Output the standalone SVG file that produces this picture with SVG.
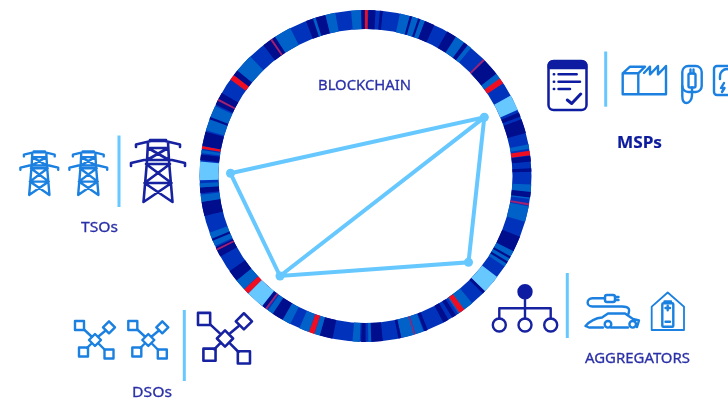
<svg xmlns="http://www.w3.org/2000/svg" width="728" height="401" viewBox="0 0 728 401">
<style>
text{font-family:"Noto Sans","Open Sans","Liberation Sans",sans-serif;}
.lbl{fill:#2a30a8;stroke:#2a30a8;stroke-width:.3px;font-size:15px;}
.bold{fill:#0a1a9c;stroke:#0a1a9c;stroke-width:.2px;font-size:16px;font-weight:700;}
.ring{fill:none;stroke-width:19;}
.n{stroke:#000a8c}.m{stroke:#0062c8}.l{stroke:#66c8ff}.r{stroke:#f01020}.t{stroke:#a02070}
.sep{stroke:#66c8ff;stroke-width:3;fill:none;}
.edge{stroke:#66c8ff;stroke-width:4;fill:none;stroke-linecap:round;}
.dot{fill:#66c8ff;}
.ic{fill:none;stroke-linecap:round;stroke-linejoin:round;}
.lt{stroke:#1a80e0;stroke-width:2.400;}
.dk{stroke:#1520a0;stroke-width:2.400;}
</style>
<defs>
<filter id="soft" x="-5%" y="-5%" width="110%" height="110%"><feGaussianBlur stdDeviation="0.5"/></filter>
<circle id="s" class="ring" cx="365.5" cy="176" r="156.5" pathLength="360"/>
<g id="tower">
<path d="M-8,0H8M-22,7V4.5L-7,1H7L22,4.5V7M-27,26V23L-14,20H14L27,23V26M-10,2L-11,21L-14.5,62M10,2L11,21L14.5,62M-10,8H10M-10,8L11,20M10,8L-11,20M-12,24H12M-12,24L13.500,43M12,24L-13.500,43M-13.500,43H13.500M-13.500,43L14.500,62M13.500,43L-14.500,62"/>
</g>
<g id="net">
<path d="M0,-6L6,0L0,6L-6,0ZM-11,-10.500L-4,-4M10,-9L4,-4M-8,8L-4,4M10,10L4,4"/>
<rect x="-20" y="-19" width="9" height="9"/>
<path d="M14,-18.700L20,-12.700L14,-6.700L8,-12.700Z"/>
<rect x="-16" y="7.500" width="9" height="9"/>
<rect x="9.500" y="9.500" width="9" height="9"/>
</g>
</defs>

<g filter="url(#soft)">
<g id="blockchain-ring">
<circle class="ring" cx="365.500" cy="176" r="156.500" stroke="#0033bb"/>
<g>
<use href="#s" class="m" stroke-dasharray="5 360" stroke-dashoffset="-3"/>
<use href="#s" class="n" stroke-dasharray="2 360" stroke-dashoffset="-5.500"/>
<use href="#s" class="t" stroke-dasharray="0.700 360" stroke-dashoffset="-9.500"/>
<use href="#s" class="m" stroke-dasharray="5.500 360" stroke-dashoffset="-10.500"/>
<use href="#s" class="n" stroke-dasharray="5.500 360" stroke-dashoffset="-21.500"/>
<use href="#s" class="m" stroke-dasharray="6 360" stroke-dashoffset="-27"/>
<use href="#s" class="n" stroke-dasharray="0.800 360" stroke-dashoffset="-29"/>
<use href="#s" class="n" stroke-dasharray="0.800 360" stroke-dashoffset="-31"/>
<use href="#s" class="l" stroke-dasharray="6.500 360" stroke-dashoffset="-37.500"/>
<use href="#s" class="n" stroke-dasharray="1 360" stroke-dashoffset="-44"/>
<use href="#s" class="m" stroke-dasharray="6 360" stroke-dashoffset="-50"/>
<use href="#s" class="r" stroke-dasharray="2 360" stroke-dashoffset="-53.500"/>
<use href="#s" class="n" stroke-dasharray="1.500 360" stroke-dashoffset="-57"/>
<use href="#s" class="n" stroke-dasharray="2 360" stroke-dashoffset="-60"/>
<use href="#s" class="n" stroke-dasharray="1.200 360" stroke-dashoffset="-68"/>
<use href="#s" class="m" stroke-dasharray="3 360" stroke-dashoffset="-69.500"/>
<use href="#s" class="t" stroke-dasharray="0.700 360" stroke-dashoffset="-72.500"/>
<use href="#s" class="m" stroke-dasharray="4.500 360" stroke-dashoffset="-73"/>
<use href="#s" class="n" stroke-dasharray="1 360" stroke-dashoffset="-77.500"/>
<use href="#s" class="n" stroke-dasharray="4 360" stroke-dashoffset="-84"/>
<use href="#s" class="m" stroke-dasharray="1 360" stroke-dashoffset="-88"/>
<use href="#s" class="n" stroke-dasharray="1.500 360" stroke-dashoffset="-90"/>
<use href="#s" class="m" stroke-dasharray="2.500 360" stroke-dashoffset="-92"/>
<use href="#s" class="n" stroke-dasharray="4.500 360" stroke-dashoffset="-101.500"/>
<use href="#s" class="m" stroke-dasharray="2 360" stroke-dashoffset="-106"/>
<use href="#s" class="r" stroke-dasharray="2 360" stroke-dashoffset="-108"/>
<use href="#s" class="m" stroke-dasharray="3.500 360" stroke-dashoffset="-110"/>
<use href="#s" class="m" stroke-dasharray="3 360" stroke-dashoffset="-117"/>
<use href="#s" class="n" stroke-dasharray="4 360" stroke-dashoffset="-120"/>
<use href="#s" class="m" stroke-dasharray="2 360" stroke-dashoffset="-124"/>
<use href="#s" class="t" stroke-dasharray="0.700 360" stroke-dashoffset="-126.500"/>
<use href="#s" class="n" stroke-dasharray="1.200 360" stroke-dashoffset="-127.200"/>
<use href="#s" class="l" stroke-dasharray="6.500 360" stroke-dashoffset="-128.500"/>
<use href="#s" class="r" stroke-dasharray="2 360" stroke-dashoffset="-135"/>
<use href="#s" class="m" stroke-dasharray="4 360" stroke-dashoffset="-137"/>
<use href="#s" class="n" stroke-dasharray="4 360" stroke-dashoffset="-141"/>
<use href="#s" class="n" stroke-dasharray="3.500 360" stroke-dashoffset="-151"/>
<use href="#s" class="t" stroke-dasharray="0.700 360" stroke-dashoffset="-153.300"/>
<use href="#s" class="m" stroke-dasharray="5 360" stroke-dashoffset="-155"/>
<use href="#s" class="n" stroke-dasharray="0.800 360" stroke-dashoffset="-157"/>
<use href="#s" class="n" stroke-dasharray="5 360" stroke-dashoffset="-166"/>
<use href="#s" class="m" stroke-dasharray="2.500 360" stroke-dashoffset="-171"/>
<use href="#s" class="n" stroke-dasharray="2 360" stroke-dashoffset="-174"/>
<use href="#s" class="m" stroke-dasharray="1.500 360" stroke-dashoffset="-176"/>
<use href="#s" class="l" stroke-dasharray="6.500 360" stroke-dashoffset="-178.500"/>
<use href="#s" class="n" stroke-dasharray="2 360" stroke-dashoffset="-185.500"/>
<use href="#s" class="m" stroke-dasharray="1 360" stroke-dashoffset="-188"/>
<use href="#s" class="r" stroke-dasharray="0.900 360" stroke-dashoffset="-189.500"/>
<use href="#s" class="n" stroke-dasharray="5 360" stroke-dashoffset="-190.500"/>
<use href="#s" class="m" stroke-dasharray="9 360" stroke-dashoffset="-196"/>
<use href="#s" class="n" stroke-dasharray="0.800 360" stroke-dashoffset="-200"/>
<use href="#s" class="n" stroke-dasharray="4.500 360" stroke-dashoffset="-205.500"/>
<use href="#s" class="t" stroke-dasharray="0.700 360" stroke-dashoffset="-207"/>
<use href="#s" class="r" stroke-dasharray="2 360" stroke-dashoffset="-215.500"/>
<use href="#s" class="n" stroke-dasharray="2 360" stroke-dashoffset="-217.500"/>
<use href="#s" class="m" stroke-dasharray="6.500 360" stroke-dashoffset="-219.500"/>
<use href="#s" class="n" stroke-dasharray="5 360" stroke-dashoffset="-232"/>
<use href="#s" class="t" stroke-dasharray="0.700 360" stroke-dashoffset="-235"/>
<use href="#s" class="m" stroke-dasharray="6 360" stroke-dashoffset="-237"/>
<use href="#s" class="n" stroke-dasharray="7 360" stroke-dashoffset="-249"/>
<use href="#s" class="m" stroke-dasharray="1 360" stroke-dashoffset="-251.500"/>
<use href="#s" class="m" stroke-dasharray="3.500 360" stroke-dashoffset="-256"/>
<use href="#s" class="m" stroke-dasharray="3.500 360" stroke-dashoffset="-265"/>
<use href="#s" class="n" stroke-dasharray="1.500 360" stroke-dashoffset="-268.500"/>
<use href="#s" class="r" stroke-dasharray="1 360" stroke-dashoffset="-269.800"/>
<use href="#s" class="n" stroke-dasharray="2.500 360" stroke-dashoffset="-271"/>
<use href="#s" class="n" stroke-dasharray="1 360" stroke-dashoffset="-275"/>
<use href="#s" class="m" stroke-dasharray="9 360" stroke-dashoffset="-282"/>
<use href="#s" class="n" stroke-dasharray="0.800 360" stroke-dashoffset="-285.500"/>
<use href="#s" class="n" stroke-dasharray="0.800 360" stroke-dashoffset="-288.500"/>
<use href="#s" class="n" stroke-dasharray="3.500 360" stroke-dashoffset="-291"/>
<use href="#s" class="n" stroke-dasharray="3.500 360" stroke-dashoffset="-299.500"/>
<use href="#s" class="m" stroke-dasharray="3.500 360" stroke-dashoffset="-303"/>
<use href="#s" class="n" stroke-dasharray="1.500 360" stroke-dashoffset="-306.500"/>
<use href="#s" class="m" stroke-dasharray="1.500 360" stroke-dashoffset="-308"/>
<use href="#s" class="t" stroke-dasharray="0.700 360" stroke-dashoffset="-315.200"/>
<use href="#s" class="n" stroke-dasharray="6 360" stroke-dashoffset="-316"/>
<use href="#s" class="m" stroke-dasharray="2.500 360" stroke-dashoffset="-322"/>
<use href="#s" class="r" stroke-dasharray="2 360" stroke-dashoffset="-324"/>
<use href="#s" class="l" stroke-dasharray="5.500 360" stroke-dashoffset="-331"/>
<use href="#s" class="n" stroke-dasharray="1.500 360" stroke-dashoffset="-337.500"/>
<use href="#s" class="n" stroke-dasharray="5 360" stroke-dashoffset="-340"/>
<use href="#s" class="m" stroke-dasharray="1.500 360" stroke-dashoffset="-349"/>
<use href="#s" class="r" stroke-dasharray="1.600 360" stroke-dashoffset="-351.200"/>
<use href="#s" class="n" stroke-dasharray="2 360" stroke-dashoffset="-353"/>
<use href="#s" class="n" stroke-dasharray="1.200 360" stroke-dashoffset="-357.300"/>
</g>
</g>

<g id="connectors">
<path class="edge" d="M230.500,173.300L484.300,117.300L468.500,262.300L280,276L230.500,173.300M280,276L484.300,117.300"/>
<circle class="dot" cx="230.500" cy="173.300" r="4.500"/>
<circle class="dot" cx="484.300" cy="117.300" r="4.500"/>
<circle class="dot" cx="468.500" cy="262.300" r="4.500"/>
<circle class="dot" cx="280" cy="276" r="4.500"/>
</g>

<g id="blockchain-label"><text class="lbl" x="318" y="90" textLength="93" lengthAdjust="spacingAndGlyphs">BLOCKCHAIN</text></g>

<g id="tsos">
<g class="ic lt"><use href="#tower" transform="translate(39.300,151.500) scale(.7)" style="stroke-width:3.400px"/><use href="#tower" transform="translate(88.300,151.500) scale(.7)" style="stroke-width:3.400px"/></g>
<path class="sep" d="M119,135.500V207"/>
<g class="ic dk"><use href="#tower" transform="translate(158,140)" style="stroke-width:2.600px"/></g>
<text class="lbl" x="81" y="232" textLength="37" lengthAdjust="spacingAndGlyphs">TSOs</text>
</g>

<g id="dsos">
<g class="ic lt"><use href="#net" x="95" y="340"/><use href="#net" x="148.300" y="340"/></g>
<path class="sep" d="M184.300,310V381"/>
<g class="ic dk"><use href="#net" transform="translate(225,338.500) scale(1.350)" style="stroke-width:1.900px"/></g>
<text class="lbl" x="132" y="397" textLength="40" lengthAdjust="spacingAndGlyphs">DSOs</text>
</g>

<g id="msps">
<g class="ic" stroke="#101ca0" stroke-width="2.500">
<rect x="548.500" y="61" width="38" height="49" rx="5"/>
<path d="M549,68V65A4,4 0 0 1 553,61.500H582A4,4 0 0 1 586,65V68Z" fill="#101ca0"/>
<path d="M558.500,74.300H576.700M558.500,81.700H580M558.500,89H570M553.800,74.300h.4M553.800,81.700h.4M553.800,89h.4"/>
<path d="M567.300,100L571.700,103.500L580.700,94" stroke-width="3"/>
</g>
<path class="sep" d="M605.700,51.500V106.700"/>
<g class="ic lt">
<path d="M622.700,73.300H638.300V94.300H622.700ZM622.700,73.300L630,66.700H645L638.300,73.300M638.300,94.300H666V66L658,74.500V66L650,74.500V66.700L644,73"/>
<rect x="682.300" y="66" width="19.400" height="26" rx="6"/>
<rect x="688.500" y="73.500" width="7" height="14" rx="1.500"/>
<path d="M690.500,73.500V69.500M693.500,73.500V69.500M692,87.500V95C692,100 689,103 686.500,103C683.500,103 682.300,100 682.300,96V86"/>
<rect x="714" y="66" width="30" height="29" rx="3"/>
<path d="M720,79V76A7,7 0 0 1 734,76M724,83L721,88H724.500L722,92"/>
</g>
<text class="bold" x="617" y="148" textLength="45" lengthAdjust="spacingAndGlyphs">MSPs</text>
</g>

<g id="aggregators">
<g class="ic dk">
<circle cx="525" cy="291.700" r="6.500" fill="#101ca0" stroke="#101ca0"/>
<path d="M525,298V318.500M499.300,318.500V308.300H550.700V318.500"/>
<circle cx="499.300" cy="325" r="6.500"/><circle cx="525" cy="325" r="6.500"/><circle cx="550.700" cy="325" r="6.500"/>
</g>
<path class="sep" d="M567.300,273V338"/>
<g class="ic lt">
<path d="M605,298.300H592.500C586,298.300 586,306.500 592.500,306.500H622C630,306.500 630,310 628,315"/>
<rect x="605" y="295" width="10" height="7" rx="2"/>
<path d="M615,297H618.500M615,300H618.500"/>
<path d="M585.500,326C590,321 596,318 602,317.500L608,313.500H625L633,319L639,320.500L637,327M590,327.500H603M611,327.500H628M585.500,326L589,327.500"/>
<circle cx="608" cy="324.300" r="3.300"/><circle cx="632.700" cy="324.300" r="3.300"/>
<path d="M651.700,306.700L667.700,292.500L684,306.700V330H651.700Z" stroke-width="1.800"/>
<rect x="662.300" y="303.300" width="11" height="23.400" rx="1"/>
<path d="M664.500,301.500H671M667.700,305.800V310.200M665.500,308H670M665.500,321.700H670"/>
</g>
<text class="lbl" x="585" y="362.500" textLength="105" lengthAdjust="spacingAndGlyphs">AGGREGATORS</text>
</g>
</g>
</svg>
